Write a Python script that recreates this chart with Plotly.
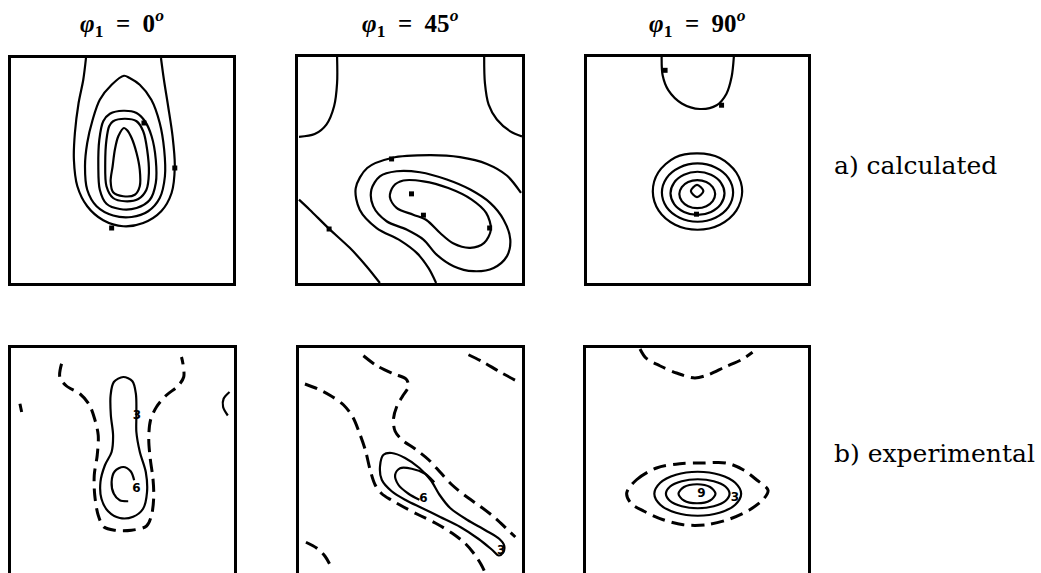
import plotly.graph_objects as go

# ---------------------------------------------------------------------------
# ODF sections: each panel is a (phi2, Phi) square, 0..90 deg, Phi downwards.
# Contour lines are stored as lists of (phi2, Phi) points along each isoline.
# ---------------------------------------------------------------------------

column_titles = ["<i>φ</i><sub>1</sub>&nbsp;&nbsp;=&nbsp;&nbsp;0<sup><i>o</i></sup>",
                 "<i>φ</i><sub>1</sub>&nbsp;&nbsp;=&nbsp;&nbsp;45<sup><i>o</i></sup>",
                 "<i>φ</i><sub>1</sub>&nbsp;&nbsp;=&nbsp;&nbsp;90<sup><i>o</i></sup>"]
row_titles = ["a) calculated", "b) experimental"]

# ---- a) calculated, phi1 = 0 ----
calc0_lev1 = [(30.4, 0), (29.3, 8.7), (27.4, 18), (25.9, 30), (25.5, 40.7), (26.9, 51.3),
              (30.9, 59.3), (37.4, 64.9), (45.5, 67.3), (53.6, 66), (60.9, 61.3), (65.1, 54),
              (66.4, 43.3), (65.5, 31.3), (63.7, 19.3), (62, 8.7), (60.8, 0)]
calc0_lev2 = [(45.8, 7.1), (40.8, 10.7), (36, 16.7), (33.1, 24.7), (30.9, 34), (30, 43.3),
              (30.9, 52.7), (34.7, 59.3), (41.4, 63), (48.9, 63.6), (55.6, 61.3), (60.3, 56),
              (62.4, 47.3), (62.1, 36.7), (60.3, 26), (56.9, 16.7), (52.2, 10.7), (48.1, 8),
              (45.8, 7.1)]
calc0_lev3 = [(40.1, 22.3), (45.5, 21.1), (50.9, 22), (54.3, 25.3), (57, 31.3), (58.7, 40.7),
              (58.7, 50), (56.3, 56.7), (50.9, 60), (44.1, 60.4), (38.7, 58.3), (36, 52.7),
              (35.4, 43.3), (35.8, 32.7), (37.4, 25.3), (40.1, 22.3)]
calc0_lev4 = [(41.4, 25.3), (46.2, 24.3), (50.9, 25.3), (53.6, 29.3), (55.2, 36.7), (55.9, 46),
              (54.9, 52.7), (51.6, 56.4), (46.2, 57.3), (41.4, 56), (38.7, 51.3), (38.2, 42),
              (38.7, 32.7), (39.8, 27.3), (41.4, 25.3)]
calc0_lev5 = [(45.8, 28), (43.5, 31.3), (42.1, 36.7), (41.2, 43.3), (40.4, 49.3), (41.4, 53.7),
              (45.5, 55.3), (50.2, 54.7), (52.2, 51.3), (52.2, 44.7), (50.9, 38), (48.9, 32),
              (47.1, 28.9), (45.8, 28)]
calc0_marks = [(53.9, 26), (66.4, 44), (40.8, 68)]

# ---- a) calculated, phi1 = 45 ----
calc45_corner_l = [(15.7, 0), (15.7, 10.4), (14.5, 19.6), (11.4, 26.9), (6.7, 30.7), (0.4, 31.8)]
calc45_corner_r = [(74.8, 0), (75.1, 10.4), (76.6, 19), (79.9, 24.9), (85.3, 29.6), (90, 31.6)]
calc45_diag = [(0.4, 56.8), (4.7, 60.8), (12.8, 68.7), (20.8, 76), (27.5, 83.3), (32.9, 90)]
calc45_lev1 = [(89.6, 54.1), (83.9, 47.2), (75.9, 42.6), (65.1, 39.9), (53, 39.1), (37.6, 40.2),
               (27.8, 44.2), (23.2, 52.2), (24.8, 60.8), (31.6, 68.1), (41, 73), (47.7, 78),
               (52.4, 84), (55.5, 90)]
calc45_lev2 = [(32.9, 47.5), (29.5, 52.8), (30.2, 59.4), (35.6, 65.4), (43.6, 68.7), (50.4, 72.7),
               (55.7, 78.7), (62.5, 83.3), (70.5, 85.3), (78.6, 84), (83.9, 79.4), (85.3, 72.7),
               (82.6, 64.8), (77.2, 58.1), (69.2, 52.8), (59.8, 48.8), (49, 45.9), (39.6, 45.5),
               (32.9, 47.5)]
calc45_lev3 = [(38.3, 51.5), (36.9, 55.7), (39.6, 60.1), (46.3, 62.8), (51.7, 65), (57.1, 70.1),
               (62.5, 74.3), (69.2, 76), (74.8, 74), (77.5, 68.7), (75.6, 62.1), (69.8, 56.8),
               (60.4, 52.2), (50.4, 49.5), (42.3, 49.2), (38.3, 51.5)]
calc45_marks = [(45.6, 54.5), (77, 68.1), (50.4, 63), (37.6, 40.6), (12.5, 68.5)]

# ---- a) calculated, phi1 = 90 ----
calc90_top = [(30.4, 0), (30.8, 7.3), (33.1, 13.2), (38.6, 18.5), (46, 20.7), (52.8, 19.2),
              (56.8, 14.6), (58.9, 7.9), (59.8, 0)]
calc90_lev1 = [(63.2, 53.6), (60.8, 46.0), (54.1, 40.2), (45, 38.4), (35.9, 40.0), (29.0, 46.0),
               (26.8, 53.6), (29.2, 61.2), (35.9, 66.8), (45, 68.8), (54.1, 66.8), (60.8, 61.2),
               (63.2, 53.6)]
calc90_lev2 = [(59.5, 54), (57.6, 48.2), (52.3, 44), (45, 42.4), (37.7, 44), (32.4, 48.2),
               (30.5, 54), (32.4, 59.8), (37.7, 64), (45, 65.6), (52.3, 64), (57.6, 59.8),
               (59.5, 54)]
calc90_lev3 = [(56, 54.3), (54.5, 50), (50.5, 46.9), (45, 45.7), (39.5, 46.9), (35.5, 50),
               (34, 54.3), (35.5, 58.6), (39.5, 61.7), (45, 62.9), (50.5, 61.7), (54.5, 58.6),
               (56, 54.3)]
calc90_lev4 = [(52.2, 54.6), (51.2, 51.8), (48.6, 49.8), (44.9, 49), (41.2, 49.8), (38.6, 51.8),
               (37.6, 54.6), (38.6, 57.4), (41.2, 59.4), (44.9, 60.2), (48.6, 59.4), (51.2, 57.4),
               (52.2, 54.6)]
calc90_lev5 = [(47.4, 53.4), (44.8, 50.9), (42.3, 53.4), (44.8, 55.8), (47.4, 53.4)]
calc90_marks = [(44.6, 62.6), (31.8, 5.3), (54.8, 19.2)]

# ---- b) experimental, phi1 = 0 ----
exp0_dash1 = [(20.4, 6.3), (19.7, 11.6), (22.4, 15.2), (27.8, 18.3), (31.6, 22.7), (33.8, 28.5),
              (35.2, 34.9), (34.8, 42.9), (33.6, 50.9), (33.8, 58.9), (35.2, 66.9), (37.5, 71.6),
              (41.9, 72.9), (48.6, 72.9), (54.7, 71.2), (56.7, 66.9), (57.6, 59.6), (57.3, 52.3),
              (56.2, 44.3), (55.6, 36.3), (56.3, 28.9), (58.7, 23.6), (62.7, 18.9), (67.4, 15.2),
              (69.7, 11.6), (69.4, 6.3), (68.8, 3.6)]
exp0_dash_edge = [(3.6, 22.3), (4.3, 25.6)]
exp0_edge_r = [(88.2, 17.6), (85.8, 20.3), (85.6, 23.6), (87.5, 27)]
exp0_lev3 = [(45.3, 11.6), (41.5, 13.6), (40.2, 18.9), (40.3, 26.9), (41.2, 34.9), (40.6, 41.6),
             (37.9, 46.9), (36.1, 53.6), (36.5, 60.3), (39.2, 65.3), (43.9, 68), (49.3, 67.5),
             (53.3, 64.3), (54.9, 57.6), (54.4, 49.6), (52, 41.6), (50.6, 33.6), (50.6, 26.9),
             (50.4, 18.3), (49, 13.3), (45.3, 11.6)]
exp0_lev6 = [(47.3, 61.3), (43.9, 60.9), (41.5, 58.3), (40.6, 53.6), (41.9, 49.3), (45.3, 47.6),
             (48.3, 49.3), (49.7, 52.9)]
exp0_labels = [(50.6, 56.5, "6"), (50.8, 27.3, "3")]

# ---- b) experimental, phi1 = 45 ----
exp45_dash1 = [(2.4, 14.4), (7.4, 16.3), (12.8, 19.1), (17.9, 22.7), (21.7, 27.6), (24.4, 34),
               (26.8, 40.9), (28.7, 48.7), (30.7, 54.7), (33.4, 58.3), (37.4, 60.9), (42.2, 63.6),
               (48.2, 66.7), (55, 70), (61.7, 74), (67.1, 78.2), (70.9, 82.6), (73.5, 86.6),
               (75.2, 90)]
exp45_dash2 = [(26, 3.1), (31.4, 7.1), (38.1, 10.3), (43.2, 12.4), (44.2, 15.3), (41.9, 19.1),
               (39.5, 23.3), (38.1, 28.7), (38.8, 33.3), (41.5, 36.7), (46.9, 40.4), (52.3, 44.7),
               (57, 49.7), (61.7, 54.7), (67.1, 59.1), (73.1, 63.3), (79.2, 68), (83.9, 72.4),
               (87.3, 75.6)]
exp45_dash3 = [(68.4, 2.7), (74.5, 5.7), (80.6, 9.3), (87.3, 12.9)]
exp45_dash4 = [(2.8, 77.7), (7.1, 80), (10.5, 83.3), (13.2, 88)]
exp45_lev3 = [(34.1, 42.7), (32.7, 47.3), (33.4, 52.7), (37.4, 57.3), (43.2, 60.9), (49.6, 64),
              (57, 67.6), (65.1, 71.6), (72.5, 76.4), (77.9, 80.7), (80.6, 83), (82.3, 82),
              (82.8, 79), (80.9, 76.4), (75.2, 72.9), (67.8, 68.7), (61, 64), (56.7, 58.7),
              (53.2, 52.9), (48.6, 48), (42.8, 44), (37.4, 42), (34.1, 42.7)]
exp45_lev6 = [(48.6, 60.7), (44.2, 58.3), (40.1, 54.7), (38.8, 50.7), (40.8, 48.1), (45.5, 48.3),
              (50.9, 50.3), (54.6, 53.7)]
exp45_labels = [(50.2, 60.2, "6"), (81.6, 81.2, "3")]

# ---- b) experimental, phi1 = 90 ----
exp90_dash_top = [(21.9, 0.4), (24.3, 4), (29.9, 7.1), (36.7, 10), (44.1, 12), (49.5, 10.7),
                  (56.3, 7.6), (63, 4.7), (67.5, 1.7)]
exp90_dash_eye = [(16.5, 58), (20.5, 52.7), (28.6, 48), (38, 46.3), (47.5, 46), (56.9, 46),
                  (63.7, 48.7), (69.1, 52.7), (73.8, 56.9), (72, 60.4), (66.4, 64.7), (58.3, 68.4),
                  (48.8, 70.7), (39.4, 70.7), (31.3, 68.7), (23.5, 65.3), (18.1, 62), (16.5, 58)]
exp90_lev3 = [(62.9, 58.3), (60.5, 53.9), (54.1, 50.7), (45.3, 49.5), (36.5, 50.7), (30.1, 53.9),
              (27.7, 58.3), (30.1, 62.7), (36.5, 65.9), (45.3, 67.1), (54.1, 65.9), (60.5, 62.7),
              (62.9, 58.3)]
exp90_lev6 = [(58.2, 58.3), (56.5, 55.4), (51.8, 53.3), (45.3, 52.5), (38.8, 53.3), (34.1, 55.4),
              (32.4, 58.3), (34.1, 61.2), (38.8, 63.3), (45.3, 64.1), (51.8, 63.3), (56.5, 61.2),
              (58.2, 58.3)]
exp90_lev9 = [(52.5, 58.3), (50.3, 55.6), (45, 54.5), (39.7, 55.6), (37.5, 58.3), (39.7, 61),
              (45, 62.1), (50.3, 61), (52.5, 58.3)]
exp90_labels = [(46.8, 58.4, "9"), (60.4, 59.8, "3")]

# ---------------------------------------------------------------------------
# Figure layout: panel frames in pixels (left, right, top, bottom)
# ---------------------------------------------------------------------------
W, H = 1041, 573
frames = [(11, 233, 58, 283), (298, 522, 57, 283), (587, 808, 57, 283),
          (11, 234, 348, 573), (299, 522, 348, 573), (586, 808, 348, 573)]

SOLID = dict(color="black", width=2.2, dash="solid")
DASHED = dict(color="black", width=3.0, dash="13px,7px")

panels = [
    dict(lines=[(calc0_lev1, SOLID), (calc0_lev2, SOLID), (calc0_lev3, SOLID),
                (calc0_lev4, SOLID), (calc0_lev5, SOLID)], marks=calc0_marks, labels=[]),
    dict(lines=[(calc45_corner_l, SOLID), (calc45_corner_r, SOLID), (calc45_diag, SOLID),
                (calc45_lev1, SOLID), (calc45_lev2, SOLID), (calc45_lev3, SOLID)],
         marks=calc45_marks, labels=[]),
    dict(lines=[(calc90_top, SOLID), (calc90_lev1, SOLID), (calc90_lev2, SOLID),
                (calc90_lev3, SOLID), (calc90_lev4, SOLID), (calc90_lev5, SOLID)],
         marks=calc90_marks, labels=[]),
    dict(lines=[(exp0_dash1, DASHED), (exp0_dash_edge, DASHED), (exp0_edge_r, SOLID),
                (exp0_lev3, SOLID), (exp0_lev6, SOLID)], marks=[], labels=exp0_labels),
    dict(lines=[(exp45_dash1, DASHED), (exp45_dash2, DASHED), (exp45_dash3, DASHED),
                (exp45_dash4, DASHED), (exp45_lev3, SOLID), (exp45_lev6, SOLID)],
         marks=[], labels=exp45_labels),
    dict(lines=[(exp90_dash_top, DASHED), (exp90_dash_eye, DASHED), (exp90_lev3, SOLID),
                (exp90_lev6, SOLID), (exp90_lev9, SOLID)], marks=[], labels=exp90_labels),
]

fig = go.Figure()
layout = dict(width=W, height=H, margin=dict(l=0, r=0, t=0, b=0),
              paper_bgcolor="white", plot_bgcolor="white", showlegend=False)

for i, (panel, (l, r, t, b)) in enumerate(zip(panels, frames), start=1):
    sfx = "" if i == 1 else str(i)
    xa, ya = "x" + sfx, "y" + sfx
    bottom_row = i > 3
    layout["xaxis" + sfx] = dict(
        domain=[l / W, r / W], range=[0, 90], anchor=ya,
        showline=True, linecolor="black", linewidth=3,
        mirror=not bottom_row, side="top" if bottom_row else "bottom",
        showgrid=False, zeroline=False, showticklabels=False, ticks="", fixedrange=True)
    layout["yaxis" + sfx] = dict(
        domain=[1 - b / H, 1 - t / H], range=[90, 0], anchor=xa,
        showline=True, linecolor="black", linewidth=3, mirror=True,
        showgrid=False, zeroline=False, showticklabels=False, ticks="", fixedrange=True)

    for pts, style in panel["lines"]:
        fig.add_trace(go.Scatter(
            x=[p[0] for p in pts], y=[p[1] for p in pts], mode="lines",
            line=dict(shape="spline", smoothing=0.9, **style),
            xaxis=xa, yaxis=ya, hoverinfo="skip"))
    if panel["marks"]:
        fig.add_trace(go.Scatter(
            x=[p[0] for p in panel["marks"]], y=[p[1] for p in panel["marks"]],
            mode="markers", marker=dict(color="black", size=5, symbol="square"),
            xaxis=xa, yaxis=ya, hoverinfo="skip"))
    if panel["labels"]:
        fig.add_trace(go.Scatter(
            x=[p[0] for p in panel["labels"]], y=[p[1] for p in panel["labels"]],
            text=["<b>%s</b>" % p[2] for p in panel["labels"]], mode="text",
            textfont=dict(family="DejaVu Sans", size=12, color="black"),
            xaxis=xa, yaxis=ya, hoverinfo="skip"))

annotations = []
for j, title in enumerate(column_titles):
    l, r, t, b = frames[j]
    annotations.append(dict(
        x=(l + r) / 2 / W, y=1 - 23 / H, xref="paper", yref="paper",
        text="<b>" + title + "</b>", showarrow=False, xanchor="center", yanchor="middle",
        font=dict(family="Liberation Serif", size=25, color="black")))
for label, yc in zip(row_titles, [165, 453]):
    annotations.append(dict(
        x=832 / W, y=1 - yc / H, xref="paper", yref="paper", text=label,
        showarrow=False, xanchor="left", yanchor="middle",
        font=dict(family="DejaVu Serif", size=25, color="black")))
layout["annotations"] = annotations

fig.update_layout(**layout)
fig.write_html("out.html")
